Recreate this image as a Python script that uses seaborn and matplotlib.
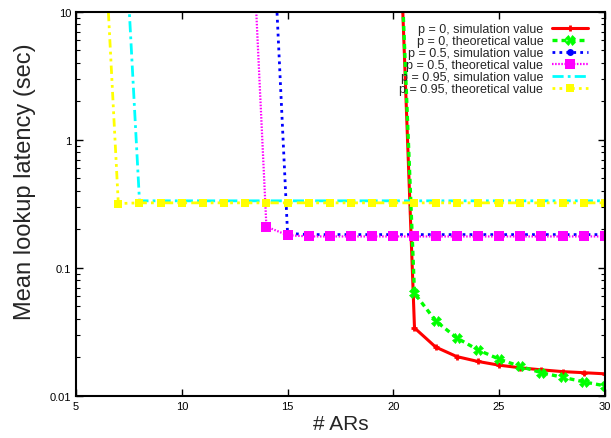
import matplotlib
matplotlib.use("Agg")
import matplotlib.pyplot as plt
import seaborn as sns
import pandas as pd

# ---- data ----
x_p0 = [20, 21, 22, 23, 24, 25, 26, 27, 28, 29, 30]
sim_p0 = [1000, 0.0340, 0.0241, 0.0203, 0.0186, 0.0174, 0.0166, 0.0160, 0.0155, 0.0152, 0.0149]
theo_p0 = [800, 0.0634, 0.0386, 0.0284, 0.0229, 0.0194, 0.0170, 0.0152, 0.0140, 0.0129, 0.0120]

x_p05_sim = list(range(14, 31))
sim_p05 = [540, 0.186] + [0.182] * 15
x_p05_theo = list(range(13, 31))
theo_p05 = [660, 0.210, 0.180] + [0.176] * 15

x_p095_sim = list(range(7, 31))
sim_p095 = [400] + [0.334] * 23
x_p095_theo = list(range(6, 31))
theo_p095 = [490, 0.318] + [0.322] * 23

labels = ["p = 0, simulation value", "p = 0, theoretical value",
          "p = 0.5, simulation value", "p = 0.5, theoretical value",
          "p = 0.95, simulation value", "p = 0.95, theoretical value"]
x_ticks = [5, 10, 15, 20, 25, 30]
y_ticks = [0.01, 0.1, 1, 10]
y_ticklabels = ["0.01", "0.1", "1", "10"]

# ---- style ----
sns.set_theme(style="ticks")
plt.rcParams["font.family"] = ["Liberation Sans", "DejaVu Sans"]

fig = plt.figure(figsize=(6.11, 4.39), dpi=100)
ax = fig.add_axes([0.1244, 0.0957, 0.990 - 0.1244, 0.971 - 0.0957])

series = [
    (x_p0, sim_p0, dict(color="#ff0000", linestyle="-", linewidth=2.2, marker="+", markersize=5, markeredgewidth=2)),
    (x_p0, theo_p0, dict(color="#00ff00", linestyle=(0, (1.5, 1.2)), linewidth=2.4, marker="X", markersize=6.5, markeredgewidth=0.5)),
    (x_p05_sim, sim_p05, dict(color="#0000ff", linestyle=(0, (1, 1.5)), linewidth=2.0, marker="o", markersize=5, markeredgewidth=0)),
    (x_p05_theo, theo_p05, dict(color="#ff00ff", linestyle=(0, (0.7, 0.7)), linewidth=1.6, marker="s", markersize=7, markeredgewidth=0)),
    (x_p095_sim, sim_p095, dict(color="#00ffff", linestyle=(0, (4, 1.5, 1, 1.5)), linewidth=2.0, marker=None)),
    (x_p095_theo, theo_p095, dict(color="#ffff00", linestyle=(0, (1, 1.5, 1, 1.5, 3, 1.5)), linewidth=2.0, marker="s", markersize=6, markeredgewidth=0)),
]

for (xs, ys, kw), lab in zip(series, labels):
    df = pd.DataFrame({"x": xs, "y": ys})
    kw = dict(kw)
    kw["markeredgecolor"] = kw["color"]
    sns.lineplot(data=df, x="x", y="y", ax=ax, label=lab, estimator=None, sort=False, **kw)

ax.set_yscale("log")
ax.set_xlim(5, 30)
ax.set_ylim(0.01, 10)
ax.set_xticks(x_ticks)
ax.set_xticklabels([str(t) for t in x_ticks])
ax.set_yticks(y_ticks)
ax.set_yticklabels(y_ticklabels)
ax.tick_params(which="both", direction="in", top=True, right=True, labelsize=8, colors="black")
ax.tick_params(which="major", length=5, width=1)
ax.tick_params(which="minor", length=3, width=0.8)
ax.tick_params(axis="x", which="minor", top=False, bottom=False)
for s in ax.spines.values():
    s.set_linewidth(1.5)
    s.set_color("black")

ax.set_xlabel("# ARs", fontsize=15, labelpad=2)
ax.set_ylabel("Mean lookup latency (sec)", fontsize=17)
ax.yaxis.set_label_coords(-0.075, 0.56)

leg = ax.legend(loc="upper right", bbox_to_anchor=(0.99, 1.0), frameon=False, markerfirst=False,
                fontsize=9, handlelength=2.9, handletextpad=0.7, labelspacing=0.0, borderpad=0.4)
try:
    col = leg._legend_box._children[-1]._children[0]
    col.align = "right"
except Exception:
    pass

fig.savefig("out.png", dpi=100)
